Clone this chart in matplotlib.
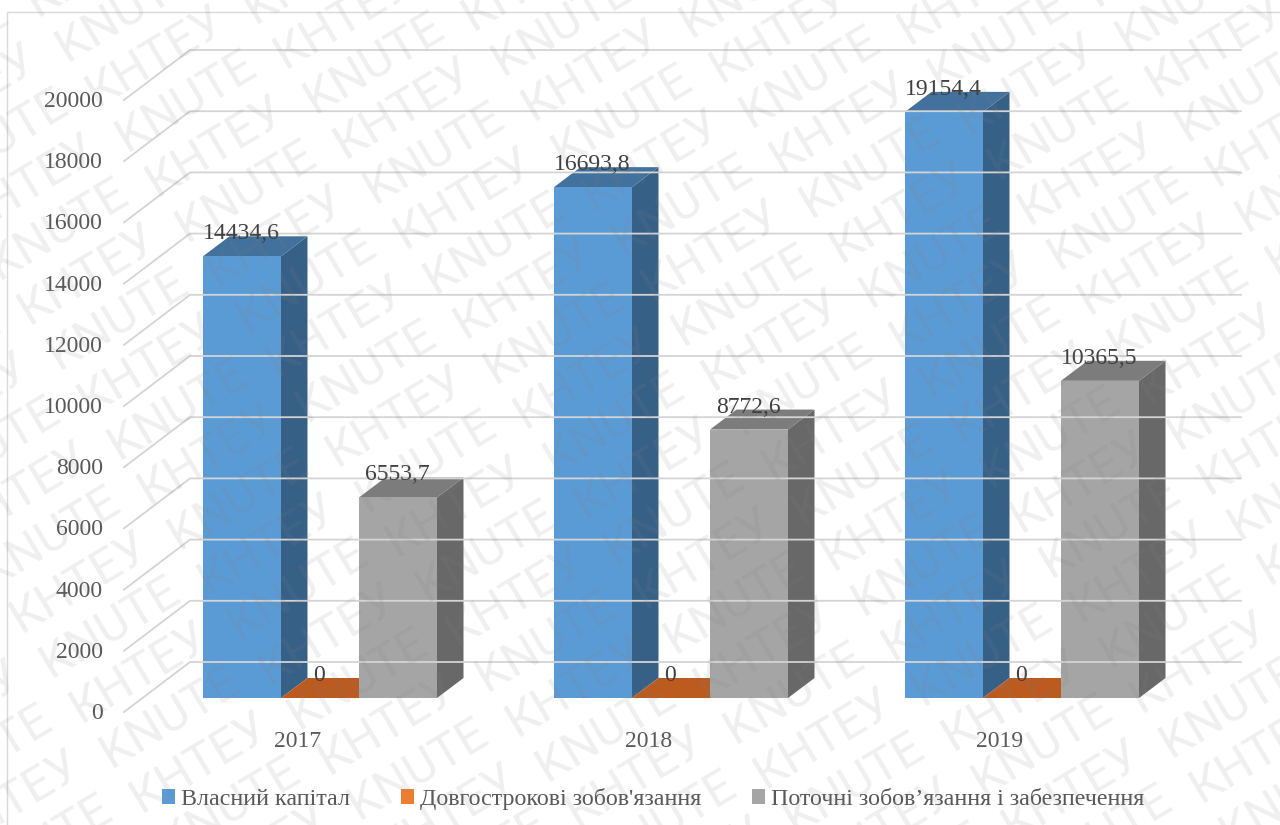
import matplotlib
matplotlib.use('Agg')
import matplotlib.pyplot as plt
from matplotlib.lines import Line2D
from matplotlib.patches import Polygon, Patch
from matplotlib.transforms import Affine2D, IdentityTransform

plt.rcParams['font.family'] = ['Liberation Serif', 'DejaVu Serif']

years = ['2017', '2018', '2019']
series_names = ['Власний капітал', "Довгострокові зобов'язання", 'Поточні зобов’язання і забезпечення']
own_capital = [14434.6, 16693.8, 19154.4]
long_term = [0, 0, 0]
current = [6553.7, 8772.6, 10365.5]
value_labels = [['14434,6', '16693,8', '19154,4'], ['0', '0', '0'], ['6553,7', '8772,6', '10365,5']]
y_ticks = [0, 2000, 4000, 6000, 8000, 10000, 12000, 14000, 16000, 18000, 20000]

front_colors = ['#5b9bd5', '#ed7d31', '#a5a5a5']
top_colors = ['#41719c', '#bb5b1f', '#7c7c7c']
side_colors = ['#376087', '#a8511c', '#686868']

W, H = 1280, 825
fig = plt.figure(figsize=(W / 100, H / 100), dpi=100)
# front floor edge of the 3d box, in pixels
left, right, bottom, top = 124, 1177, 712, 100
cat_px = (right - left) / 3
ax = fig.add_axes([left / W, 1 - bottom / H, (right - left) / W, (bottom - top) / H])
ax.set_xlim(0, 3)
ax.set_ylim(0, 20000)
ax.axis('off')
pixels = IdentityTransform()


def shifted(dx, dy):
    # data coordinates pushed back into the box by a pixel offset
    return ax.transData + Affine2D().translate(dx, dy)


# chart frame, only the left and top edges fall inside the figure
fig.add_artist(Line2D([7, 7, W], [0, H - 12, H - 12], color='#d9d9d9', lw=1, transform=pixels))

# gridlines: diagonal on the side wall, then across the back wall
wall = shifted(66, 50)
grid_end = 2.994
for v in y_ticks:
    p0 = ax.transData.transform((0, v))
    p1 = wall.transform((0, v))
    p2 = wall.transform((grid_end, v))
    fig.add_artist(Line2D([p0[0], p1[0], p2[0]], [p0[1], p1[1], p2[1]], color='#d4d4d4', lw=1.3,
                          transform=pixels))
    ax.text(0, v, str(v), ha='right', va='center', fontsize=17, color='#595959',
            transform=shifted(-21, -1.5))

# bars
bar_w = 78 / cat_px
front = shifted(20.5, 14)
back = shifted(47, 34)
for s, vals in enumerate([own_capital, long_term, current]):
    for i, v in enumerate(vals):
        x0 = i + 0.5 + (s - 1.5) * bar_w
        x1 = x0 + bar_w
        corners = [(x0, 0), (x1, 0), (x1, v), (x0, v)]
        f = front.transform(corners)
        b = back.transform(corners)
        # side and top faces join the front edges to the same edges further back
        fig.add_artist(Polygon([f[1], b[1], b[2], f[2]], fc=side_colors[s], ec='none', transform=pixels))
        fig.add_artist(Polygon([f[3], f[2], b[2], b[3]], fc=top_colors[s], ec='none', transform=pixels))
        fig.add_artist(Polygon(f, fc=front_colors[s], ec='none', transform=pixels))
        fig.text((f[3][0] + 38) / W, (b[3][1] - 3) / H, value_labels[s][i], ha='center', va='baseline',
                 fontsize=17, color='#404040', zorder=5)

for i, y in enumerate(years):
    ax.text(i + 0.5, 0, y, ha='center', va='center', fontsize=17, color='#595959',
            transform=shifted(-1.5, -29.5))

handles = [Patch(fc=c, ec='none') for c in front_colors]
fig.legend(handles, series_names, ncol=3, loc='center', bbox_to_anchor=(653 / W, 1 - 799 / H), frameon=False,
           fontsize=17.25, labelcolor='#595959', handlelength=0.55, handleheight=0.55, handletextpad=0.25,
           columnspacing=2.115)

# diagonal watermark: a slanted grid alternating the two university abbreviations
along = (158, 83)
across = (30, -45)
for r in range(-25, 25):
    for k in range(-20, 20):
        x = 1217 + k * along[0] + r * across[0]
        y_up = (H - 187) + k * along[1] + r * across[1]
        if x < -160 or x > W + 10 or y_up < -100 or y_up > H + 10:
            continue
        word = 'КНТЕУ' if (k + r) % 2 == 0 else 'KNUTE'
        fig.text(x / W, y_up / H, word, rotation=31, rotation_mode='anchor', ha='left', va='baseline',
                 family='Roboto', fontsize=35, color='#808080', alpha=0.13, zorder=10)

fig.savefig('out.png', dpi=100)
